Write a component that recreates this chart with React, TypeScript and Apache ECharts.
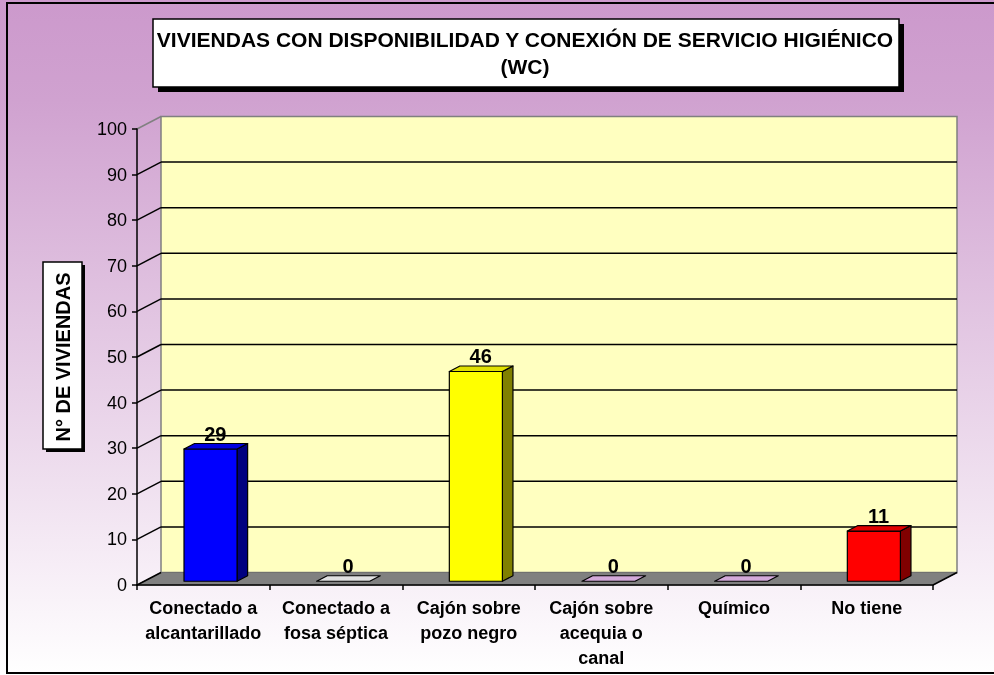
import React, { useEffect, useRef } from 'react';
import * as echarts from 'echarts';

const categories = [
  'Conectado a\nalcantarillado',
  'Conectado a\nfosa séptica',
  'Cajón sobre\npozo negro',
  'Cajón sobre\nacequia o\ncanal',
  'Químico',
  'No tiene',
];
const values = [29, 0, 46, 0, 0, 11];
const yTicks = [0, 10, 20, 30, 40, 50, 60, 70, 80, 90, 100];
const titleText = 'VIVIENDAS CON DISPONIBILIDAD Y CONEXIÓN DE SERVICIO HIGIÉNICO\n(WC)';
const yAxisTitle = 'N° DE VIVIENDAS';

const frontColors = ['#0000FF', '#FFFFFF', '#FFFF00', '#F0C0F8', '#F0C0F8', '#FF0000'];

const FONT = 'Arial, "Liberation Sans", sans-serif';
const DX = 24;
const DY = -12.5;
const F1 = 0.3;
const F2 = 0.74;

function shade(hex: string, k: number): string {
  const n = parseInt(hex.slice(1), 16);
  const r = Math.round(((n >> 16) & 255) * k);
  const g = Math.round(((n >> 8) & 255) * k);
  const b = Math.round((n & 255) * k);
  return `rgb(${r},${g},${b})`;
}

export default function App() {
  const ref = useRef<HTMLDivElement>(null);
  useEffect(() => {
    if (!ref.current) return;
    const chart = echarts.init(ref.current, undefined, { renderer: 'svg' });

    const option: any = {
      animation: false,
      grid: { left: 137, right: 61, top: 129, bottom: 90 },
      xAxis: {
        type: 'category',
        data: categories,
        z: 10,
        axisLine: { show: true, lineStyle: { color: '#000', width: 1.5 } },
        axisTick: { show: true, length: 5, lineStyle: { color: '#000', width: 1.5 } },
        axisLabel: {
          interval: 0,
          color: '#000',
          fontFamily: FONT,
          fontWeight: 'bold',
          fontSize: 18,
          lineHeight: 25,
          margin: 10,
        },
        splitLine: { show: false },
      },
      yAxis: {
        type: 'value',
        min: 0,
        max: 100,
        interval: 10,
        z: 10,
        axisLine: { show: true, lineStyle: { color: '#000', width: 1.5 } },
        axisTick: { show: true, length: 5, lineStyle: { color: '#000', width: 1.5 } },
        axisLabel: { color: '#000', fontFamily: FONT, fontSize: 18, margin: 10 },
        splitLine: { show: false },
      },
      graphic: [
        {
          type: 'rect',
          z: -100,
          silent: true,
          shape: { x: 0, y: 0, width: 994, height: 675 },
          style: {
            fill: new echarts.graphic.LinearGradient(0, 0, 0, 1, [
              { offset: 0, color: '#CC99CC' },
              { offset: 0.15, color: '#D0A2D0' },
              { offset: 1, color: '#FFFFFF' },
            ]),
          },
        },
        {
          type: 'rect',
          z: 50,
          silent: true,
          shape: { x: 7, y: 3, width: 1000, height: 670 },
          style: { fill: 'none', stroke: '#000', lineWidth: 2 },
        },
        {
          type: 'rect',
          z: 50,
          shape: { x: 158, y: 24, width: 746, height: 68 },
          style: { fill: '#000' },
        },
        {
          type: 'rect',
          z: 51,
          shape: { x: 153, y: 19, width: 746, height: 68 },
          style: { fill: '#FFFFFF', stroke: '#000', lineWidth: 1.5 },
        },
        {
          type: 'text',
          z: 52,
          x: 525,
          y: 53,
          style: {
            text: titleText,
            fill: '#000',
            font: `bold 21px ${FONT}`,
            lineHeight: 27,
            align: 'center',
            verticalAlign: 'middle',
            textAlign: 'center',
            textVerticalAlign: 'middle',
          },
        },
        {
          type: 'rect',
          z: 50,
          shape: { x: 46, y: 265, width: 39, height: 187 },
          style: { fill: '#000' },
        },
        {
          type: 'rect',
          z: 51,
          shape: { x: 43, y: 262, width: 39, height: 187 },
          style: { fill: '#FFFFFF', stroke: '#000', lineWidth: 1.5 },
        },
        {
          type: 'text',
          z: 52,
          x: 63,
          y: 357,
          rotation: Math.PI / 2,
          style: {
            text: yAxisTitle,
            fill: '#000',
            font: `bold 20px ${FONT}`,
            align: 'center',
            verticalAlign: 'middle',
            textAlign: 'center',
            textVerticalAlign: 'middle',
          },
        },
      ],
      series: [
        {
          type: 'custom',
          name: 'wall',
          z: 1,
          clip: false,
          silent: true,
          data: [[0, 100]],
          renderItem: (params: any, api: any) => {
            const cs = params.coordSys;
            const x0 = cs.x;
            const yTop = api.coord([0, api.value(1)])[1];
            const yBot = api.coord([0, 0])[1];
            return {
              type: 'group',
              children: [
                {
                  type: 'rect',
                  shape: { x: x0 + DX, y: yTop + DY, width: cs.width, height: yBot - yTop },
                  style: { fill: '#FFFFC0', stroke: '#808080', lineWidth: 1.5 },
                },
                {
                  type: 'line',
                  shape: { x1: x0, y1: yTop, x2: x0 + DX, y2: yTop + DY },
                  style: { stroke: '#808080', lineWidth: 1.5 },
                },
              ],
            };
          },
        },
        {
          type: 'custom',
          name: 'grid',
          z: 2,
          clip: false,
          silent: true,
          data: yTicks.filter((v) => v > 0 && v < 100).map((v) => [0, v]),
          renderItem: (params: any, api: any) => {
            const cs = params.coordSys;
            const x0 = cs.x;
            const y = api.coord([0, api.value(1)])[1];
            return {
              type: 'group',
              children: [
                {
                  type: 'line',
                  shape: { x1: x0, y1: y, x2: x0 + DX, y2: y + DY },
                  style: { stroke: '#000', lineWidth: 1.5 },
                },
                {
                  type: 'line',
                  shape: { x1: x0 + DX, y1: y + DY, x2: x0 + DX + cs.width, y2: y + DY },
                  style: { stroke: '#000', lineWidth: 1.5 },
                },
              ],
            };
          },
        },
        {
          type: 'custom',
          name: 'floor',
          z: 3,
          clip: false,
          silent: true,
          data: [[0, 0]],
          renderItem: (params: any, api: any) => {
            const cs = params.coordSys;
            const x0 = cs.x;
            const x1 = cs.x + cs.width;
            const y = api.coord([0, api.value(1)])[1];
            return {
              type: 'group',
              children: [
                {
                  type: 'polygon',
                  shape: {
                    points: [
                      [x0, y],
                      [x1, y],
                      [x1 + DX, y + DY],
                      [x0 + DX, y + DY],
                    ],
                  },
                  style: { fill: '#808080', stroke: '#707070', lineWidth: 1 },
                },
                {
                  type: 'line',
                  shape: { x1: x0, y1: y, x2: x0 + DX, y2: y + DY },
                  style: { stroke: '#000', lineWidth: 1.5 },
                },
                {
                  type: 'line',
                  shape: { x1: x1, y1: y, x2: x1 + DX, y2: y + DY },
                  style: { stroke: '#000', lineWidth: 1.5 },
                },
              ],
            };
          },
        },
        {
          type: 'custom',
          name: 'bars',
          z: 4,
          clip: false,
          silent: true,
          data: values.map((v, i) => [i, v]),
          renderItem: (params: any, api: any) => {
            const i = api.value(0);
            const v = api.value(1);
            const [cx, yv] = api.coord([i, v]);
            const y0 = api.coord([i, 0])[1];
            const bw = api.size([1, 0])[0] * 0.4;
            const xl = cx - bw / 2;
            const xr = cx + bw / 2;
            const ax = DX * F1;
            const ay = DY * F1;
            const bx = DX * F2;
            const by = DY * F2;
            const c = frontColors[i];
            const stroke = { stroke: '#000', lineWidth: 1.2, lineJoin: 'round' };
            const children: any[] = [];
            if (v > 0) {
              children.push({
                type: 'polygon',
                shape: {
                  points: [
                    [xr + ax, yv + ay],
                    [xr + bx, yv + by],
                    [xr + bx, y0 + by],
                    [xr + ax, y0 + ay],
                  ],
                },
                style: { fill: shade(c, 0.5), ...stroke },
              });
              children.push({
                type: 'rect',
                shape: { x: xl + ax, y: yv + ay, width: bw, height: y0 - yv },
                style: { fill: c, ...stroke },
              });
            }
            children.push({
              type: 'polygon',
              shape: {
                points: [
                  [xl + ax, yv + ay],
                  [xr + ax, yv + ay],
                  [xr + bx, yv + by],
                  [xl + bx, yv + by],
                ],
              },
              style: { fill: shade(c, 0.88), ...stroke },
            });
            children.push({
              type: 'text',
              x: cx + 12,
              y: yv + ay - 5,
              style: {
                text: String(v),
                fill: '#000',
                font: `bold 20px ${FONT}`,
                align: 'center',
                verticalAlign: 'bottom',
              },
            });
            return { type: 'group', children };
          },
        },
      ],
    };

    chart.setOption(option);
    return () => chart.dispose();
  }, []);

  return (
    <div
      ref={ref}
      style={{ position: 'fixed', left: 0, top: 0, width: 994, height: 675 }}
    />
  );
}
